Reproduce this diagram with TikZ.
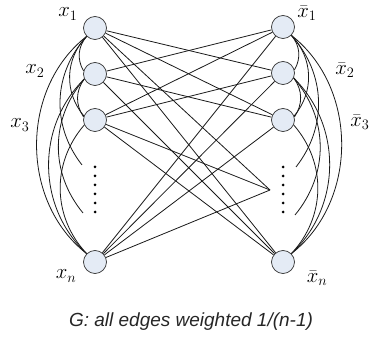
\documentclass[tikz,border=0pt]{standalone}
\usepackage{fontspec}
\setsansfont{Liberation Sans}
\usetikzlibrary{backgrounds}
\definecolor{nodefill}{HTML}{E4EBF5}
\begin{document}
\begin{tikzpicture}[x=1pt,y=-1pt,
  vnode/.style={circle,draw=black!80,fill=nodefill,minimum size=23pt,inner sep=0pt,line width=0.7pt},
  edge/.style={draw=black!90,line width=0.8pt},
  lab/.style={font=\fontsize{22}{26}\selectfont,inner sep=0pt},
  dotmark/.style={fill=black}]
\useasboundingbox (0,0) rectangle (375,339);
% left nodes
\node[vnode] (x1) at (95,28) {};
\node[vnode] (x2) at (95,74) {};
\node[vnode] (x3) at (95,120) {};
\node[vnode] (xn) at (95,262) {};
% right nodes
\node[vnode] (y1) at (283,27) {};
\node[vnode] (y2) at (283,73) {};
\node[vnode] (y3) at (283,120) {};
\node[vnode] (yn) at (283,262) {};
% free ends
\coordinate (v) at (270,190);
\coordinate (la) at (82,165);
\coordinate (lb) at (83,213);
\coordinate (ra) at (296,167);
\coordinate (rb) at (295,215);
\begin{scope}[on background layer]
% cross edges
\foreach \a/\b in {x1/y2,x1/y3,x1/yn,x2/y1,x2/y3,x2/yn,x3/y1,x3/y2,x3/yn,xn/y1,xn/y2,xn/y3,x1/v,x3/v,xn/v}
  \draw[edge] (\a) -- (\b);
% left curves
\draw[edge] (x1.225) to[bend right=35] (x2.165);
\draw[edge] (x1.225) to[bend right=42] (x3.160);
\draw[edge] (x1.225) to[bend right=52] (xn.135);
\draw[edge] (x2.205) to[bend right=35] (x3.165);
\draw[edge] (x2.205) to[bend right=46] (xn.135);
\draw[edge] (x3.205) to[bend right=42] (xn.135);
\draw[edge] (x1.225) to[bend right=40] (la);
\draw[edge] (x2.205) to[bend right=40] (lb);
% right curves
\draw[edge] (y1.315) to[bend left=35] (y2.15);
\draw[edge] (y1.315) to[bend left=42] (y3.20);
\draw[edge] (y1.315) to[bend left=52] (yn.45);
\draw[edge] (y2.335) to[bend left=35] (y3.15);
\draw[edge] (y2.335) to[bend left=46] (yn.45);
\draw[edge] (y3.335) to[bend left=42] (yn.45);
\draw[edge] (y1.315) to[bend left=40] (ra);
\draw[edge] (y2.335) to[bend left=40] (rb);
\end{scope}
% dots
\foreach \yy in {167,176,185,194,203,212} {
  \fill[dotmark] (95,\yy) circle (1.5);
  \fill[dotmark] (283,\yy) circle (1.5);
}
% labels
\node[lab] (lx1) at (68,14) {$x_1$};
\node[lab] (lx2) at (35,71) {$x_2$};
\node[lab] (lx3) at (20,125) {$x_3$};
\node[lab] (lxn) at (66,276) {$x_n$};
\node[lab] (ly1) at (307,13) {$\bar{x}_1$};
\node[lab] (ly2) at (345,70) {$\bar{x}_2$};
\node[lab] (ly3) at (360,122) {$\bar{x}_3$};
\node[lab] (lyn) at (317,278) {$\bar{x}_n$};
\node[font=\sffamily\itshape\fontsize{19}{22}\selectfont,text=black!85] (cap) at (191,322) {G: all edges weighted 1/(n-1)};
\end{tikzpicture}
\end{document}
